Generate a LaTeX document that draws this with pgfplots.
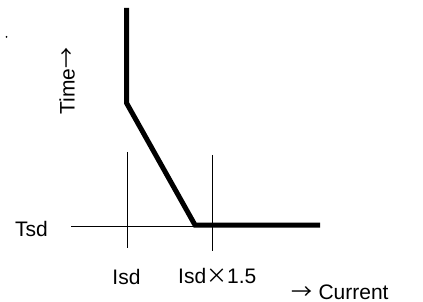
\documentclass[border=0pt]{standalone}
\usepackage{pgfplots}
\pgfplotsset{compat=1.18}
\usepackage{fontspec}
\setmainfont{Liberation Sans}
\newfontfamily\cjk{Noto Sans CJK JP}
\tikzset{lbl/.style={font=\fontsize{21}{24}\selectfont, inner sep=0pt}}
\begin{document}
\begin{tikzpicture}
\begin{axis}[
  width=423pt, height=302pt, scale only axis,
  xmin=0, xmax=423, ymin=0, ymax=302,
  y dir=reverse, hide axis, clip=false,
]
\path (axis cs:0,0) rectangle (axis cs:423,302);
% thin reference lines
\addplot[black, line width=1pt] coordinates {(71,226) (195,226)};
\addplot[black, line width=1pt] coordinates {(127,152) (127,248)};
\addplot[black, line width=1pt] coordinates {(212.3,155) (212.3,250.7)};
% thick curve
\addplot[black, line width=5pt, line join=miter] coordinates {(126.7,8) (126.7,103.3) (195,225) (320,225)};
% labels
\node[lbl, anchor=west] at (axis cs:15,229) {Tsd};
\node[lbl] at (axis cs:126.5,277) {Isd};
\node[lbl, anchor=west] at (axis cs:178,276) {Isd{\cjk ×}1.5};
\node[lbl, anchor=base west] at (axis cs:291,299) {{\cjk →}\hspace{0.3em}Current};
\node[lbl, rotate=90] at (axis cs:67,81) {Time{\cjk →}};
\fill (axis cs:6.5,37) circle[radius=1pt];
\end{axis}
\end{tikzpicture}
\end{document}
